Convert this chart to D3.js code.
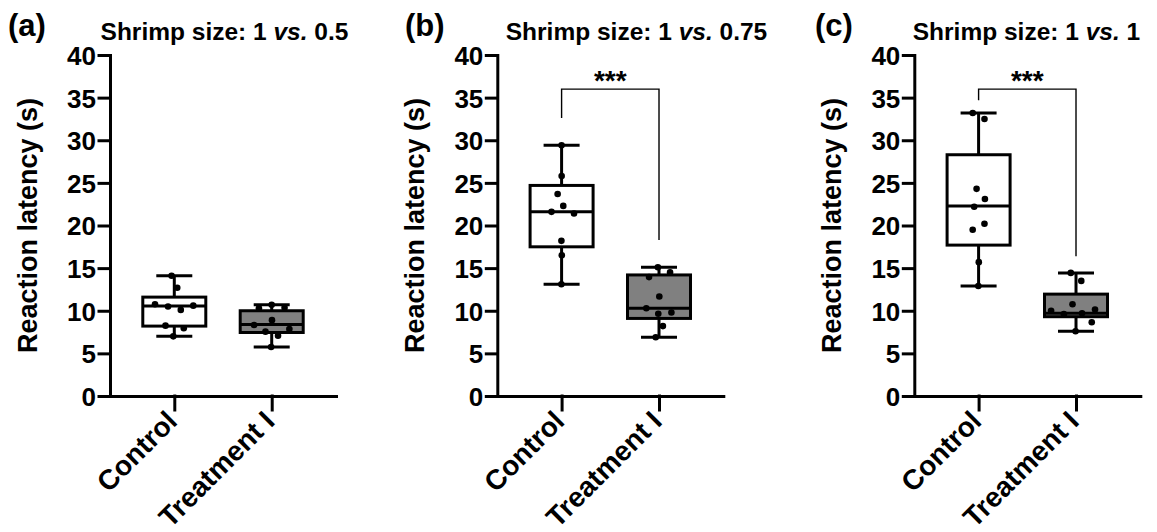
<!DOCTYPE html>
<html><head><meta charset="utf-8">
<script src="https://cdn.jsdelivr.net/npm/d3@7"></script>
<style>
body{margin:0;background:#fff}
text{font-family:"Liberation Sans",Arial,Helvetica,sans-serif;font-weight:bold;fill:#000}
</style>
</head><body>
<svg id="chart" width="1157" height="532"></svg>
<script>
// ---------------- data ----------------
const panelLabels = ["(a)", "(b)", "(c)"];
const sizeRatios = ["0.5", "0.75", "1"];
const categories = ["Control", "Treatment I"];
const yTicks = [0, 5, 10, 15, 20, 25, 30, 35, 40];

// individual reaction latencies (s)
const controlA = [14.1, 12.7, 10.76, 10.6, 10.5, 10.1, 8.25, 7.94, 7.0];
const treatA   = [10.7, 10.36, 10.3, 8.9, 8.33, 7.86, 7.55, 7.07, 5.75];
const controlB = [29.4, 25.8, 23.7, 22.3, 21.6, 21.4, 18.2, 16.5, 13.1];
const treatB   = [15.1, 14.5, 13.95, 11.68, 10.3, 9.8, 9.65, 8.2, 6.9];
const controlC = [33.2, 32.5, 24.3, 23.1, 22.2, 20.2, 19.5, 15.7, 12.9];
const treatC   = [14.44, 13.5, 10.77, 10.15, 10.0, 9.7, 9.6, 8.65, 7.6];

// box summaries: [min, q1, median, q3, max]
const boxControlA = [7.0, 8.2, 10.55, 11.6, 14.1];
const boxTreatA   = [5.75, 7.45, 8.4, 10.0, 10.7];
const boxControlB = [13.1, 17.5, 21.6, 24.7, 29.4];
const boxTreatB   = [6.9, 9.1, 10.3, 14.2, 15.1];
const boxControlC = [12.9, 17.7, 22.3, 28.3, 33.2];
const boxTreatC   = [7.6, 9.3, 9.7, 11.95, 14.44];

// significance brackets: [bracket level, left leg end, right leg end] (null = none)
const sigBrackets = [null, [36, 32.6, 18.3], [36, 34.7, 16.4]];
const sigLabels = ["", "***", "***"];

const pointsByPanel = [[controlA, treatA], [controlB, treatB], [controlC, treatC]];
const boxesByPanel = [[boxControlA, boxTreatA], [boxControlB, boxTreatB], [boxControlC, boxTreatC]];

// ---------------- layout ----------------
const axisX = [110, 497.3, 914.3];
const titleX = [224.5, 636.5, 1026.5];
const letterX = [8, 405, 815];
const plotW = 226, yTop = 55, yBot = 396;
const boxW = 63, capW = 36, dotR = 3.3;
const fills = ["#ffffff", "#808080"];

const svg = d3.select("#chart");

function swarm(values, cx, y) {
  const nodes = values.map((v, k) => ({ v, fy: y(v), y: y(v), x: cx + (k % 2 ? 1 : -1) * (k + 1) * 0.4 }));
  const sim = d3.forceSimulation(nodes)
    .force("x", d3.forceX(cx).strength(0.04))
    .force("c", d3.forceCollide(6.6).strength(1).iterations(4))
    .stop();
  for (let t = 0; t < 400; t++) sim.tick();
  return nodes;
}

panelLabels.forEach((lab, i) => {
  const g = svg.append("g");
  const y = d3.scaleLinear().domain([0, 40]).range([yBot, yTop]);
  const x = d3.scalePoint().domain(categories).range([axisX[i], axisX[i] + plotW]).padding(0.66);

  // panel letter
  g.append("text").attr("x", letterX[i]).attr("y", 36).attr("font-size", 31).text(lab);

  // title
  const t = g.append("text").attr("x", titleX[i]).attr("y", 40).attr("text-anchor", "middle").attr("font-size", 24.5);
  t.append("tspan").text("Shrimp size: 1 ");
  t.append("tspan").attr("font-style", "italic").text("vs.");
  t.append("tspan").text(" " + sizeRatios[i]);

  // y axis
  const ya = g.append("g").attr("transform", `translate(${axisX[i]},0)`)
    .call(d3.axisLeft(y).tickValues(yTicks).tickSize(11).tickSizeOuter(0).tickPadding(3));
  ya.selectAll("path,line").attr("stroke", "#000").attr("stroke-width", 3).attr("stroke-linecap", "square");
  ya.selectAll("text").attr("font-size", 26).attr("font-family", null).attr("dy", "0.36em");

  // x axis
  const xa = g.append("g").attr("transform", `translate(0,${yBot})`)
    .call(d3.axisBottom(x).tickSize(14).tickSizeOuter(0));
  xa.selectAll("path,line").attr("stroke", "#000").attr("stroke-width", 3).attr("stroke-linecap", "square");
  xa.selectAll("text").remove();
  xa.selectAll(".tick").append("text")
    .attr("transform", "translate(4,27) rotate(-45)")
    .attr("text-anchor", "end")
    .attr("font-size", 28)
    .attr("font-family", null)
    .text(d => d);

  // y label
  g.append("text")
    .attr("transform", `translate(${axisX[i] - 73},${(yTop + yBot) / 2}) rotate(-90)`)
    .attr("text-anchor", "middle").attr("font-size", 27)
    .text("Reaction latency (s)");

  // boxes
  categories.forEach((c, j) => {
    const [mn, q1, md, q3, mx] = boxesByPanel[i][j];
    const cx = x(c);
    const bg = g.append("g").attr("stroke", "#000").attr("stroke-width", 3);
    bg.append("line").attr("x1", cx).attr("x2", cx).attr("y1", y(mx)).attr("y2", y(q3));
    bg.append("line").attr("x1", cx).attr("x2", cx).attr("y1", y(q1)).attr("y2", y(mn));
    bg.append("line").attr("x1", cx - capW / 2).attr("x2", cx + capW / 2).attr("y1", y(mx)).attr("y2", y(mx));
    bg.append("line").attr("x1", cx - capW / 2).attr("x2", cx + capW / 2).attr("y1", y(mn)).attr("y2", y(mn));
    bg.append("rect").attr("x", cx - boxW / 2).attr("width", boxW)
      .attr("y", y(q3)).attr("height", y(q1) - y(q3)).attr("fill", fills[j]);
    bg.append("line").attr("x1", cx - boxW / 2).attr("x2", cx + boxW / 2).attr("y1", y(md)).attr("y2", y(md));

    const nodes = swarm(pointsByPanel[i][j], cx, y);
    g.append("g").selectAll("circle").data(nodes).join("circle")
      .attr("cx", d => d.x).attr("cy", d => d.fy).attr("r", dotR).attr("fill", "#000");
  });

  // significance
  const sb = sigBrackets[i];
  if (sb) {
    const [lvl, l1, l2] = sb;
    const x1 = x(categories[0]), x2 = x(categories[1]);
    g.append("path")
      .attr("d", d3.line()([[x1, y(l1)], [x1, y(lvl)], [x2, y(lvl)], [x2, y(l2)]]))
      .attr("fill", "none").attr("stroke", "#000").attr("stroke-width", 1.4);
    g.append("text").attr("x", (x1 + x2) / 2).attr("y", y(lvl) + 1)
      .attr("text-anchor", "middle").attr("font-size", 28).text(sigLabels[i]);
  }
});
</script>
</body></html>
